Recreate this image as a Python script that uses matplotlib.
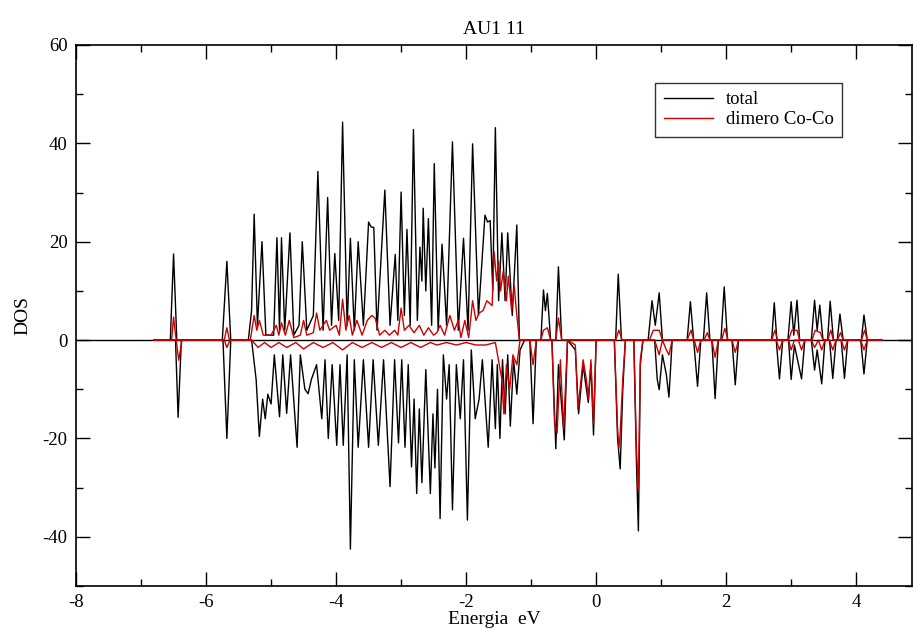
import numpy as np
import matplotlib
matplotlib.use("Agg")
import matplotlib.pyplot as plt
from matplotlib.ticker import MultipleLocator

# DOS total, spin up (vertices)
e_tot_up = [-6.8, -6.55, -6.50, -6.45, -5.75, -5.68, -5.62, -5.35, -5.30, -5.26, -5.21, -5.14, -5.08,
            -4.96, -4.91, -4.87, -4.84, -4.79, -4.71, -4.65, -4.57, -4.52, -4.45, -4.35, -4.28, -4.20,
            -4.13, -4.07, -4.02, -3.96, -3.90, -3.83, -3.78, -3.72, -3.66, -3.58, -3.50, -3.46, -3.42,
            -3.37, -3.25, -3.17, -3.09, -3.05, -3.00, -2.95, -2.91, -2.86, -2.81, -2.75, -2.71, -2.68,
            -2.66, -2.62, -2.58, -2.53, -2.49, -2.43, -2.37, -2.30, -2.21, -2.12, -2.04, -1.97, -1.90,
            -1.81, -1.71, -1.67, -1.63, -1.59, -1.55, -1.50, -1.45, -1.40, -1.36, -1.29, -1.22, -1.18,
            -0.85, -0.81, -0.78, -0.75, -0.70, -0.62, -0.58, -0.53, 0.30, 0.34, 0.39, 0.80, 0.86, 0.91,
            0.97, 1.02, 1.40, 1.45, 1.50, 1.65, 1.70, 1.75, 1.92, 1.97, 2.02, 2.70, 2.74, 2.78, 2.95,
            3.00, 3.04, 3.09, 3.13, 3.31, 3.36, 3.40, 3.44, 3.49, 3.56, 3.60, 3.65, 3.71, 3.75, 3.80,
            4.08, 4.12, 4.17, 4.4]
dos_tot_up = [0, 0, 17.5, 0, 0, 16, 0, 0, 6, 25.6, 3, 20, 1,
              1, 20.8, 2, 20.8, 2, 21.8, 1, 3, 20, 2, 5, 34.3, 2,
              29, 3, 17.6, 4, 44.3, 3, 20.7, 2, 20, 3, 24, 23, 22.9,
              2, 30.5, 3, 17.4, 4, 30.1, 5, 22.5, 3, 42.8, 4, 18.9, 12,
              26.8, 10, 24.7, 3, 35.9, 2, 19.5, 3, 40.3, 2, 20.7, 2, 39.9,
              5, 25.4, 24, 24.3, 10, 43.2, 8, 21.8, 8, 21.8, 5, 23.4, 0,
              0, 10.2, 6, 9.5, 0, 0, 14.9, 0, 0, 13.4, 0, 0, 8, 3,
              9.6, 0, 0, 7.8, 0, 0, 9.6, 0, 0, 10.8, 0, 0, 7.6, 0, 0,
              7.8, 1, 8.1, 0, 0, 8.1, 2, 7.1, 0, 0, 7.9, 0, 0, 5.3, 0,
              0, 5.1, 0, 0]

# DOS total, spin down
e_tot_dn = [-6.8, -6.47, -6.43, -6.38, -5.74, -5.68, -5.62, -5.30, -5.23, -5.18, -5.13, -5.09, -5.05,
            -5.00, -4.95, -4.87, -4.82, -4.76, -4.70, -4.60, -4.55, -4.48, -4.43, -4.38, -4.30, -4.22,
            -4.17, -4.12, -4.06, -3.99, -3.94, -3.89, -3.83, -3.78, -3.72, -3.66, -3.58, -3.50, -3.43,
            -3.35, -3.27, -3.17, -3.10, -3.04, -2.99, -2.94, -2.89, -2.84, -2.80, -2.76, -2.72, -2.68,
            -2.62, -2.55, -2.51, -2.48, -2.44, -2.40, -2.35, -2.30, -2.26, -2.21, -2.15, -2.09, -2.04,
            -1.98, -1.92, -1.86, -1.80, -1.75, -1.66, -1.60, -1.55, -1.52, -1.48, -1.44, -1.40, -1.36,
            -1.32, -1.27, -1.22, -1.17, -1.10, -1.02, -0.97, -0.92, -0.68, -0.62, -0.58, -0.49, -0.44,
            -0.32, -0.27, -0.20, -0.16, -0.12, -0.08, -0.04, 0.00, 0.28, 0.33, 0.37, 0.41, 0.45, 0.58,
            0.62, 0.65, 0.68, 0.72, 0.90, 0.94, 0.97, 1.02, 1.08, 1.12, 1.17, 1.50, 1.56, 1.61, 1.78,
            1.83, 1.88, 2.09, 2.14, 2.19, 2.77, 2.82, 2.87, 2.96, 3.00, 3.05, 3.16, 3.21, 3.31, 3.36,
            3.40, 3.47, 3.52, 3.59, 3.64, 3.69, 3.77, 3.82, 3.87, 4.07, 4.12, 4.17, 4.4]
dos_tot_dn = [0, 0, -15.7, 0, 0, -20, 0, 0, -8, -19.6, -12, -16, -11,
              -13, -3, -15.6, -3, -14.9, -3, -21.8, -3, -10, -10.9, -8, -5, -16,
              -4, -20, -5, -21.4, -5, -21.4, -3, -42.5, -4, -21.8, -4, -21.8, -4,
              -21.4, -4, -29.8, -4, -20.9, -4, -21.8, -5, -25.8, -12, -31.2, -14, -29,
              -6, -31.2, -15, -26, -10, -36.3, -3, -12, -5, -34.5, -5, -16, -4,
              -36.6, -2, -16, -12, -4, -21.8, -4, -18, -5, -20, -4, -15, -3,
              -17.5, -4, -11, -2, 0, 0, -17, 0, 0, -22.1, -5, -20.3, 0,
              -2, -15, -5, -9, -12.7, -5, -19.3, 0, 0, -20, -26.2, -10, 0, 0,
              -25, -38.8, -5, 0, 0, -8, -10.1, -3, -7, -11.6, 0, 0, -9.4, 0, 0,
              -11.9, 0, 0, -9.1, 0, 0, -7.9, 0, 0, -8, -1, -7.9, 0, 0, -6.1,
              -2, -8.9, 0, 0, -7.8, 0, 0, -7.8, 0, 0, -6.9, 0, 0]

# dimero Co-Co, spin up
e_co_up = [-6.8, -6.53, -6.50, -6.46, -5.72, -5.68, -5.64, -5.32, -5.26, -5.22, -5.18, -5.12, -5.00,
           -4.92, -4.88, -4.84, -4.78, -4.72, -4.65, -4.55, -4.50, -4.45, -4.35, -4.30, -4.25, -4.15,
           -4.10, -4.00, -3.95, -3.90, -3.85, -3.80, -3.75, -3.68, -3.60, -3.52, -3.45, -3.40, -3.33,
           -3.25, -3.18, -3.10, -3.05, -3.00, -2.95, -2.88, -2.80, -2.72, -2.65, -2.58, -2.50, -2.45,
           -2.40, -2.33, -2.25, -2.18, -2.12, -2.08, -2.02, -1.96, -1.90, -1.85, -1.80, -1.74, -1.68,
           -1.60, -1.57, -1.53, -1.50, -1.47, -1.43, -1.38, -1.35, -1.30, -1.26, -1.22, -1.18, -0.85,
           -0.81, -0.75, -0.70, -0.62, -0.58, -0.53, 0.30, 0.35, 0.40, 0.82, 0.88, 0.97, 1.02, 1.40,
           1.46, 1.50, 1.66, 1.71, 1.75, 1.93, 1.98, 2.03, 2.70, 2.75, 2.79, 2.96, 3.01, 3.09, 3.13,
           3.32, 3.37, 3.45, 3.49, 3.56, 3.61, 3.65, 3.71, 3.76, 3.80, 4.08, 4.13, 4.17, 4.4]
dos_co_up = [0, 0, 4.7, 0, 0, 2.5, 0, 0, 5, 2, 4, 1, 1,
             3, 1, 3.5, 1, 4, 0.5, 1, 4, 1, 1.5, 5.5, 2, 4,
             2, 3, 1, 8.3, 2, 5, 1, 4, 1, 4, 5, 4.5, 1,
             2, 1, 2, 1, 6.5, 2, 3, 1.5, 3, 1, 2.5, 1, 1.5,
             3, 1, 5, 2, 4, 0.5, 4, 0.5, 8, 4, 5.5, 6, 8,
             7, 18, 12, 16, 10, 14, 8, 13, 6, 11, 5, 0, 0,
             2, 2.5, 0, 0, 4.5, 0, 0, 2, 0, 0, 2, 2, 0, 0,
             2, 0, 0, 1.5, 0, 0, 2.4, 0, 0, 2, 0, 0, 2, 2, 0,
             0, 2, 1.5, 0, 0, 2, 0, 0, 1.5, 0, 0, 2, 0, 0]

# dimero Co-Co, spin down
e_co_dn = [-6.8, -6.46, -6.42, -6.37, -5.72, -5.68, -5.63, -5.30, -5.20, -5.10, -5.00, -4.88, -4.76,
           -4.62, -4.50, -4.35, -4.20, -4.05, -3.90, -3.75, -3.60, -3.45, -3.30, -3.15, -3.00, -2.85,
           -2.70, -2.55, -2.45, -2.30, -2.15, -2.00, -1.85, -1.70, -1.55, -1.45, -1.42, -1.38, -1.33,
           -1.28, -1.22, -1.17, -1.02, -0.97, -0.92, -0.68, -0.64, -0.60, -0.55, -0.50, -0.44, -0.32,
           -0.28, -0.20, -0.15, -0.12, -0.08, -0.04, 0.00, 0.28, 0.33, 0.35, 0.37, 0.41, 0.45, 0.58,
           0.62, 0.65, 0.68, 0.72, 0.90, 0.97, 1.02, 1.08, 1.12, 1.17, 1.51, 1.56, 1.61, 1.78, 1.83,
           1.88, 2.09, 2.14, 2.19, 2.77, 2.82, 2.87, 2.96, 3.00, 3.05, 3.11, 3.16, 3.21, 3.31, 3.36,
           3.42, 3.47, 3.52, 3.59, 3.64, 3.69, 3.77, 3.82, 3.87, 4.07, 4.12, 4.17, 4.4]
dos_co_dn = [0, 0, -4.1, 0, 0, -1.5, 0, 0, -1.5, -0.5, -1.5, -0.5, -1.5,
             -0.5, -1.8, -0.5, -1.5, -0.5, -2, -0.5, -1.5, -0.5, -1.5, -0.5, -1.5, -0.5,
             -1.5, -0.5, -1, -0.5, -1, -0.5, -1, -1, -0.5, -8, -15, -5, -10,
             -3, -5, 0, 0, -5, 0, 0, -17, -18.9, -4, -18, 0, -1,
             -14, -4, -8, -12, -4, -17, 0, 0, -18, -22, -19, -8, 0, 0,
             -22, -30.5, -4, 0, 0, -3, 0, -2, -3, 0, 0, -2.5, 0, 0, -3.5,
             0, 0, -2.5, 0, 0, -2, 0, 0, -2, 0, 0, -2, 0, 0, -1.5,
             0, -2, 0, 0, -2, 0, 0, -2, 0, 0, -2, 0, 0]

plt.rcParams['font.family'] = ['Liberation Serif', 'DejaVu Serif']
plt.rcParams['axes.unicode_minus'] = False

fig = plt.figure(figsize=(9.14, 6.4), dpi=100)
ax = fig.add_axes([0.0832, 0.0844, 0.9147, 0.8453])

rojo = '#cc0000'
ax.axhline(0, color='black', lw=1.0, zorder=1)
ax.plot(e_tot_up, dos_tot_up, color='black', lw=1.0, label='total', zorder=2)
ax.plot(e_tot_dn, dos_tot_dn, color='black', lw=1.0, zorder=2)
ax.plot(e_co_up, dos_co_up, color=rojo, lw=1.0, label='dimero Co-Co', zorder=3)
ax.plot(e_co_dn, dos_co_dn, color=rojo, lw=1.0, zorder=3)

ax.set_xlim(-8, 4.86)
ax.set_ylim(-50, 60)
ax.xaxis.set_major_locator(MultipleLocator(2))
ax.xaxis.set_minor_locator(MultipleLocator(1))
ax.yaxis.set_major_locator(MultipleLocator(20))
ax.yaxis.set_minor_locator(MultipleLocator(10))
ax.tick_params(which='both', direction='in', top=True, right=True, labelsize=13.5, width=1)
ax.tick_params(which='major', length=10, pad=6)
ax.tick_params(which='minor', length=5)
for s in ax.spines.values():
    s.set_linewidth(1.2)

ax.set_title('AU1 11', fontsize=14, pad=8)
ax.set_xlabel('Energia  eV', fontsize=14, labelpad=0)
ax.set_ylabel('DOS', fontsize=14, labelpad=8)

leg = ax.legend(loc='upper left', bbox_to_anchor=(0.693, 0.93), borderaxespad=0,
                fontsize=13.5, frameon=True, fancybox=False, edgecolor='black',
                handlelength=2.6, borderpad=0.45, labelspacing=0.15, handletextpad=0.7)
leg.get_frame().set_linewidth(1.0)

fig.savefig('out.png', dpi=100)
